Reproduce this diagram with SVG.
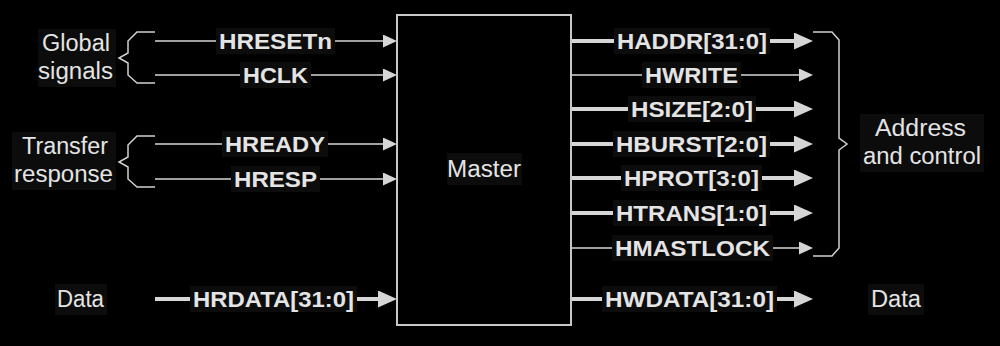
<svg xmlns="http://www.w3.org/2000/svg" width="1000" height="346" viewBox="0 0 1000 346">
  <style>
    .wire-thin { stroke: #d6d6d6; stroke-width: 1.5; fill: none; }
    .wire-bus { stroke: #d6d6d6; stroke-width: 4; fill: none; }
    .brace { stroke: #d0d0d0; stroke-width: 1.5; fill: none; }
    .box { stroke: #c8c8c8; stroke-width: 2; fill: #000; }
    .lbl-bg { fill: #0c0c0c; }
    .sig { font-family: "Liberation Sans", Arial, sans-serif; font-size: 22px; font-weight: bold; fill: #e4e4e4; text-anchor: middle; }
    .txt { font-family: "Liberation Sans", Arial, sans-serif; font-size: 23px; fill: #e4e4e4; text-anchor: middle; }
  </style>
  <defs>
    <marker id="arrow-thin" markerUnits="userSpaceOnUse" markerWidth="14" markerHeight="13" refX="0" refY="6.5" orient="auto">
      <path d="M0,0 L14,6.5 L0,13 Z" fill="#d6d6d6"/>
    </marker>
    <marker id="arrow-bus" markerUnits="userSpaceOnUse" markerWidth="19" markerHeight="17" refX="0" refY="8.5" orient="auto">
      <path d="M0,0 L19,8.5 L0,17 Z" fill="#d6d6d6"/>
    </marker>
  </defs>

  <rect width="1000" height="346" fill="#000"/>

  <!-- connectors -->
  <g id="connectors">
    <!-- inputs -->
    <line class="wire-thin" x1="155" y1="41" x2="383" y2="41" marker-end="url(#arrow-thin)"/>
    <line class="wire-thin" x1="155" y1="75" x2="383" y2="75" marker-end="url(#arrow-thin)"/>
    <line class="wire-thin" x1="155" y1="144" x2="383" y2="144" marker-end="url(#arrow-thin)"/>
    <line class="wire-thin" x1="155" y1="179" x2="383" y2="179" marker-end="url(#arrow-thin)"/>
    <line class="wire-bus" x1="155" y1="299" x2="378" y2="299" marker-end="url(#arrow-bus)"/>
    <!-- outputs -->
    <line class="wire-bus" x1="571" y1="41" x2="794" y2="41" marker-end="url(#arrow-bus)"/>
    <line class="wire-thin" x1="571" y1="75" x2="799" y2="75" marker-end="url(#arrow-thin)"/>
    <line class="wire-bus" x1="571" y1="109" x2="794" y2="109" marker-end="url(#arrow-bus)"/>
    <line class="wire-bus" x1="571" y1="144" x2="794" y2="144" marker-end="url(#arrow-bus)"/>
    <line class="wire-bus" x1="571" y1="178" x2="794" y2="178" marker-end="url(#arrow-bus)"/>
    <line class="wire-bus" x1="571" y1="213" x2="794" y2="213" marker-end="url(#arrow-bus)"/>
    <line class="wire-thin" x1="571" y1="248" x2="799" y2="248" marker-end="url(#arrow-thin)"/>
    <line class="wire-bus" x1="571" y1="299" x2="794" y2="299" marker-end="url(#arrow-bus)"/>
    <!-- grouping braces -->
    <path class="brace" d="M155,32 H137 L128,41 V53 L119,58 L128,63 V75 L137,83 H155"/>
    <path class="brace" d="M155,136 H137 L128,145 V157 L119,162 L128,167 V179 L137,187 H155"/>
    <path class="brace" d="M813,32 H832 L839,40 V138 L847,144 L839,150 V248 L832,256 H813"/>
  </g>

  <!-- master block -->
  <g id="master">
    <rect class="box" x="397" y="15" width="174" height="310"/>
    <rect class="lbl-bg" x="447" y="153" width="75" height="32"/>
    <text class="txt" x="484" y="177" textLength="74" lengthAdjust="spacingAndGlyphs">Master</text>
  </g>

  <!-- signal labels -->
  <g id="sig-hresetn">
    <rect class="lbl-bg" x="216" y="28" width="119" height="26"/>
    <text class="sig" x="275.5" y="49" textLength="113" lengthAdjust="spacingAndGlyphs">HRESETn</text>
  </g>
  <g id="sig-hclk">
    <rect class="lbl-bg" x="240" y="62" width="71" height="26"/>
    <text class="sig" x="275.5" y="83" textLength="65" lengthAdjust="spacingAndGlyphs">HCLK</text>
  </g>
  <g id="sig-hready">
    <rect class="lbl-bg" x="222" y="131" width="106" height="26"/>
    <text class="sig" x="275" y="152" textLength="100" lengthAdjust="spacingAndGlyphs">HREADY</text>
  </g>
  <g id="sig-hresp">
    <rect class="lbl-bg" x="231" y="166" width="89" height="26"/>
    <text class="sig" x="275.5" y="187" textLength="83" lengthAdjust="spacingAndGlyphs">HRESP</text>
  </g>
  <g id="sig-hrdata">
    <rect class="lbl-bg" x="190" y="286" width="167" height="26"/>
    <text class="sig" x="273.5" y="307" textLength="161" lengthAdjust="spacingAndGlyphs">HRDATA[31:0]</text>
  </g>
  <g id="sig-haddr">
    <rect class="lbl-bg" x="614" y="28" width="156" height="26"/>
    <text class="sig" x="692" y="49" textLength="150" lengthAdjust="spacingAndGlyphs">HADDR[31:0]</text>
  </g>
  <g id="sig-hwrite">
    <rect class="lbl-bg" x="642" y="62" width="99" height="26"/>
    <text class="sig" x="691.5" y="83" textLength="93" lengthAdjust="spacingAndGlyphs">HWRITE</text>
  </g>
  <g id="sig-hsize">
    <rect class="lbl-bg" x="628" y="96" width="128" height="26"/>
    <text class="sig" x="692" y="117" textLength="122" lengthAdjust="spacingAndGlyphs">HSIZE[2:0]</text>
  </g>
  <g id="sig-hburst">
    <rect class="lbl-bg" x="613" y="131" width="157" height="26"/>
    <text class="sig" x="691.5" y="152" textLength="151" lengthAdjust="spacingAndGlyphs">HBURST[2:0]</text>
  </g>
  <g id="sig-hprot">
    <rect class="lbl-bg" x="621" y="165" width="141" height="26"/>
    <text class="sig" x="691.5" y="186" textLength="135" lengthAdjust="spacingAndGlyphs">HPROT[3:0]</text>
  </g>
  <g id="sig-htrans">
    <rect class="lbl-bg" x="613" y="200" width="157" height="26"/>
    <text class="sig" x="691.5" y="221" textLength="151" lengthAdjust="spacingAndGlyphs">HTRANS[1:0]</text>
  </g>
  <g id="sig-hmastlock">
    <rect class="lbl-bg" x="612" y="235" width="161" height="26"/>
    <text class="sig" x="692.5" y="256" textLength="155" lengthAdjust="spacingAndGlyphs">HMASTLOCK</text>
  </g>
  <g id="sig-hwdata">
    <rect class="lbl-bg" x="602" y="286" width="175" height="26"/>
    <text class="sig" x="689.5" y="307" textLength="169" lengthAdjust="spacingAndGlyphs">HWDATA[31:0]</text>
  </g>

  <!-- group captions -->
  <g id="cap-global">
    <rect class="lbl-bg" x="38" y="29" width="78" height="58"/>
    <text class="txt" x="76" y="51" textLength="68" lengthAdjust="spacingAndGlyphs">Global</text>
    <text class="txt" x="75.5" y="79" textLength="75" lengthAdjust="spacingAndGlyphs">signals</text>
  </g>
  <g id="cap-transfer">
    <rect class="lbl-bg" x="12" y="132" width="104" height="58"/>
    <text class="txt" x="65" y="154" textLength="86" lengthAdjust="spacingAndGlyphs">Transfer</text>
    <text class="txt" x="63.5" y="182" textLength="99" lengthAdjust="spacingAndGlyphs">response</text>
  </g>
  <g id="cap-address">
    <rect class="lbl-bg" x="860" y="114" width="124" height="58"/>
    <text class="txt" x="920.5" y="136" textLength="91" lengthAdjust="spacingAndGlyphs">Address</text>
    <text class="txt" x="922" y="164" textLength="118" lengthAdjust="spacingAndGlyphs">and control</text>
  </g>
  <g id="cap-data-in">
    <rect class="lbl-bg" x="55" y="284" width="52" height="31"/>
    <text class="txt" x="80.5" y="307" textLength="47" lengthAdjust="spacingAndGlyphs">Data</text>
  </g>
  <g id="cap-data-out">
    <rect class="lbl-bg" x="868" y="284" width="56" height="31"/>
    <text class="txt" x="896" y="307" textLength="50" lengthAdjust="spacingAndGlyphs">Data</text>
  </g>
</svg>
